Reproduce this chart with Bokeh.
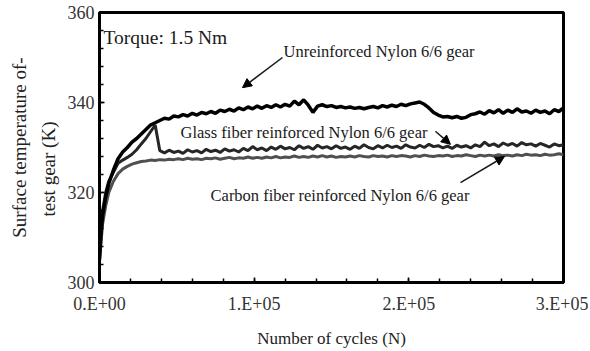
from bokeh.plotting import figure
from bokeh.models import Range1d, FixedTicker, Label, Arrow, NormalHead, Title
from bokeh.embed import file_html
from bokeh.resources import INLINE

# ---------------- data ----------------
cycles = [0, 1000, 2000, 4000, 6000, 9000] + list(range(12000, 300001, 3000))

unreinforced = [
    305, 311, 315, 319, 322, 325,
    327.5, 329, 330, 331.2, 332, 333, 334, 335, 335.5, 336,
    336.5, 336.3, 337, 336.8, 337.3, 337, 337.6, 337.2, 337.8, 337.5,
    338, 337.6, 338.3, 338, 338.5, 338.1, 338.8, 338.4, 339, 338.6,
    339.2, 338.7, 339.3, 338.9, 339.5, 339, 339.6, 339.2, 340.3, 339.5,
    340.6, 339.4, 337.8, 339.2, 339.5, 339.1, 339.3, 338.9, 339.1, 338.8,
    339, 338.7, 338.9, 338.6, 338.9, 339.1, 338.8, 339.3, 339, 339.4,
    339.1, 339.6, 339.3, 339.7, 339.9, 340.1, 339.6, 338.8, 337.8, 337.2,
    336.8, 336.9, 336.6, 336.9, 336.5, 336.7, 337.3, 337.5, 337.9, 337.4,
    338.2, 337.7, 338.4, 337.6, 338.3, 337.8, 338.6, 337.9, 338.1, 337.6,
    338.3, 337.8, 338.1, 337.5, 338.4, 338, 338.8,
]

glass = [
    306, 312, 316, 320, 322.5, 324.5,
    326.5, 327.2, 327.8, 328.5, 329.5, 330.8, 332, 333.5, 335, 329.3,
    328.8, 329.4, 328.9, 329.2, 328.7, 329.5, 329, 329.3, 328.8, 329.6,
    329.1, 329.4, 328.9, 329.7, 329.2, 329.5, 329, 329.8, 329.3, 330.2,
    329.5, 329.9, 329.3, 330.1, 329.6, 330.3, 329.7, 330, 329.5, 330.4,
    329.8, 330.2, 329.6, 330.5, 329.9, 330.2, 329.7, 330.4, 329.8, 330.1,
    329.6, 330.3, 329.8, 330.6, 330, 329.7, 330.4, 329.9, 330.5, 330,
    330.3, 329.8, 330.6, 330.1, 329.9, 330.5, 330, 330.7, 330.2, 330.4,
    329.9, 330.3, 329.8, 330.5, 330.1, 330.4, 329.9, 330.6, 330.2, 331.2,
    330.4, 330.8, 330.2, 331, 330.5, 330.9, 330.3, 331.1, 330.6, 330.8,
    330.3, 330.9, 330.5, 330.1, 330.8, 330.4, 330.6,
]

carbon = [
    305, 309, 313, 317, 320, 322.5,
    324.2, 325.2, 325.8, 326.3, 326.6, 326.9, 327, 327.2, 327.1, 327.3,
    327.2, 327.4, 327.3, 327.5, 327.3, 327.6, 327.4, 327.5, 327.3, 327.6,
    327.5, 327.7, 327.4, 327.6, 327.8, 327.5, 327.7, 327.6, 327.9, 327.6,
    327.8, 327.6, 327.9, 327.7, 328, 327.7, 327.9, 327.8, 328.1, 327.8,
    328, 327.8, 328.1, 327.9, 328.2, 327.9, 328.1, 327.8, 328, 327.9,
    328.1, 327.9, 328.2, 328, 327.9, 328.2, 328, 328.1, 327.9, 328.2,
    328, 328.2, 328.1, 327.9, 328.2, 328, 328.3, 328.1, 328, 328.2,
    328.1, 328.3, 328, 328.2, 328.1, 328.4, 328.2, 328, 328.3, 328.1,
    328.3, 328.1, 328.4, 328.2, 328.3, 328.1, 328.4, 328.2, 328.5, 328.3,
    328.4, 328.2, 328.5, 328.3, 328.4, 328.6, 328.4,
]

x_ticks = [0, 100000, 200000, 300000]
x_tick_labels = ["0.E+00", "1.E+05", "2.E+05", "3.E+05"]
x_minor = list(range(0, 300001, 20000))
y_ticks = [300, 320, 340, 360]
y_minor = list(range(300, 361, 4))

FONT = "Liberation Serif"

p = figure(width=588, height=351, output_backend="svg", toolbar_location=None,
           x_range=Range1d(0, 300000), y_range=Range1d(300, 360),
           frame_width=464, frame_height=270,
           min_border_left=99, min_border_right=25, min_border_top=12, min_border_bottom=69)
p.background_fill_color = "white"
p.border_fill_color = "white"
p.outline_line_color = "black"
p.outline_line_width = 3
p.grid.visible = False

p.line(cycles, carbon, line_color="#505050", line_width=3)
p.line(cycles, glass, line_color="#262626", line_width=3)
p.line(cycles, unreinforced, line_color="black", line_width=3.5)

for ax in (p.xaxis[0], p.yaxis[0]):
    ax.axis_line_width = 3
    ax.axis_line_color = "black"
    ax.major_tick_in = 5
    ax.major_tick_out = 0
    ax.minor_tick_in = 4
    ax.minor_tick_out = 0
    ax.major_tick_line_width = 1.5
    ax.minor_tick_line_width = 1.5
    ax.major_label_text_font = FONT
    ax.major_label_text_font_size = "18px"
    ax.major_label_text_color = "#333333"
    ax.axis_label_text_font = FONT
    ax.axis_label_text_font_style = "normal"
    ax.axis_label_text_color = "#222222"

p.xaxis.ticker = FixedTicker(ticks=x_ticks, minor_ticks=x_minor)
p.xaxis.major_label_overrides = {t: s for t, s in zip(x_ticks, x_tick_labels)}
p.xaxis.major_label_standoff = 11
p.xaxis.axis_label = "Number of cycles (N)"
p.xaxis.axis_label_text_font_size = "17px"
p.xaxis.axis_label_standoff = 12

p.yaxis.ticker = FixedTicker(ticks=y_ticks, minor_ticks=y_minor)
p.yaxis.major_label_standoff = 5

# y title, two lines, as left-side titles (inner one added first)
p.add_layout(Title(text="test gear (K)", align="left", offset=66, standoff=12,
                   text_font=FONT, text_font_style="normal", text_font_size="19px",
                   text_color="#222222"), "left")
p.add_layout(Title(text="Surface temperature of-", align="center", standoff=0,
                   text_font=FONT, text_font_style="normal", text_font_size="19px",
                   text_color="#222222"), "left")

def note(x, y, text, size="16.5px"):
    p.add_layout(Label(x=x, y=y, text=text, text_font=FONT, text_font_size=size,
                       text_color="#1a1a1a", text_align="left", text_baseline="middle"))

note(2600, 354.4, "Torque: 1.5 Nm", "19.5px")
note(119000, 351.3, "Unreinforced Nylon 6/6 gear")
note(52400, 333.3, "Glass fiber reinforced Nylon 6/6 gear")
note(71800, 319.3, "Carbon fiber reinforced Nylon 6/6 gear")

def arrow(x0, y0, x1, y1):
    p.add_layout(Arrow(end=NormalHead(size=9, fill_color="black", line_color="black"),
                       x_start=x0, y_start=y0, x_end=x1, y_end=y1,
                       line_color="#1a1a1a", line_width=1.5))

arrow(118300, 350.0, 92450, 343.3)
arrow(217200, 333.6, 226900, 330.7)
arrow(233400, 322.2, 261850, 328.0)

open("out.html", "w").write(file_html(p, INLINE))
